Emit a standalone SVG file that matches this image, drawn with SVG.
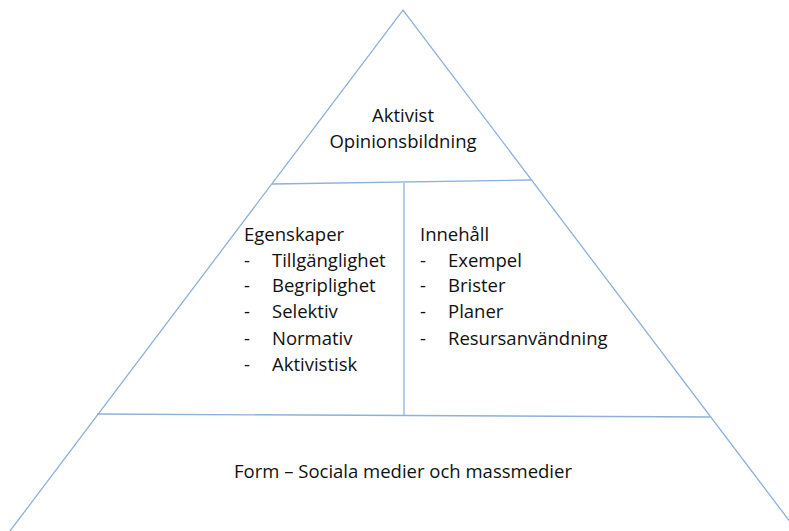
<svg xmlns="http://www.w3.org/2000/svg" width="789" height="531" viewBox="0 0 789 531">
<style>
.ln{stroke:#8eb0db;stroke-width:1.3;fill:none}
text{font-family:"Open Sans","Liberation Sans",sans-serif;font-size:18.5px;fill:#111}
.c{text-anchor:middle}
</style>
<rect width="789" height="531" fill="#fff"/>
<g id="connectors">
<path class="ln" d="M10,531 L403,10 L797,531"/>
<path class="ln" d="M272,184 L531,180"/>
<path class="ln" d="M404,183 L404,416"/>
<path class="ln" d="M97,414 L710,417"/>
</g>
<g id="top">
<text class="c" x="403" y="122">Aktivist</text>
<text class="c" x="403" y="148">Opinionsbildning</text>
</g>
<g id="egenskaper">
<text x="244" y="241">Egenskaper</text>
<text x="244" y="267">-</text><text x="272" y="267">Tillgänglighet</text>
<text x="244" y="292">-</text><text x="272" y="292">Begriplighet</text>
<text x="244" y="318">-</text><text x="272" y="318">Selektiv</text>
<text x="244" y="345">-</text><text x="272" y="345">Normativ</text>
<text x="244" y="371">-</text><text x="272" y="371">Aktivistisk</text>
</g>
<g id="innehall">
<text x="420" y="241">Innehåll</text>
<text x="420" y="267">-</text><text x="448" y="267">Exempel</text>
<text x="420" y="292">-</text><text x="448" y="292">Brister</text>
<text x="420" y="318">-</text><text x="448" y="318">Planer</text>
<text x="420" y="345">-</text><text x="448" y="345">Resursanvändning</text>
</g>
<g id="form">
<text class="c" x="403" y="478">Form – Sociala medier och massmedier</text>
</g>
</svg>
